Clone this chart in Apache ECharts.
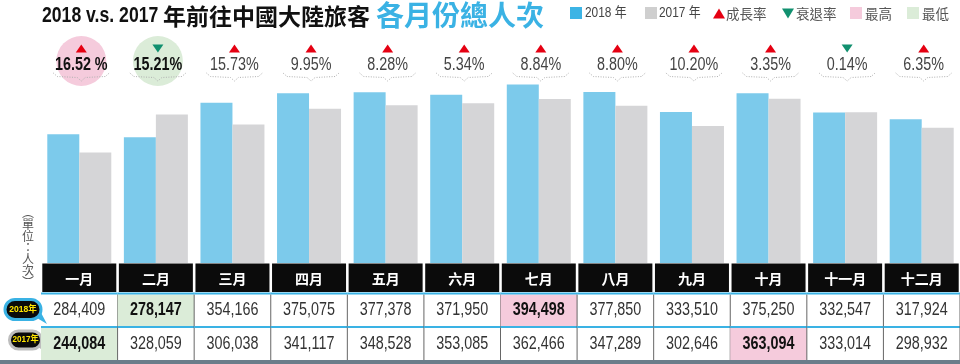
<!DOCTYPE html>
<html><head><meta charset="utf-8">
<script src="https://cdn.jsdelivr.net/npm/echarts@6/dist/echarts.min.js"></script>
<style>html,body{margin:0;padding:0;background:#fff}#c{width:960px;height:364px}</style>
</head><body><div id="c"></div>
<script>
// ---- data ----
const months = ['一月','二月','三月','四月','五月','六月','七月','八月','九月','十月','十一月','十二月'];
const v2018 = [284409,278147,354166,375075,377378,371950,394498,377850,333510,375250,332547,317924];
const v2017 = [244084,328059,306038,341117,348528,353085,362466,347289,302646,363094,333014,298932];
const growth = [16.52,-15.21,15.73,9.95,8.28,5.34,8.84,8.80,10.20,3.35,-0.14,6.35];
const growthLabels = ['16.52 %','15.21%','15.73%','9.95%','8.28%','5.34%','8.84%','8.80%','10.20%','3.35%','0.14%','6.35%'];
const seriesNames = ['2018 年','2017 年'];
const legendExtra = ['成長率','衰退率','最高','最低'];
const rowLabels = ['2018年','2017年'];
const unitLabel = '︵\n單\n位\n：\n人\n次\n︶';
const titleA = '2018 v.s. 2017', titleB = '年前往中國大陸旅客', titleC = '各月份總人次';

// ---- styles ----
const BLUE_BAR = '#7ccaeb', GRAY_BAR = '#d5d5d7', BLUE = '#3ab2e4', RED = '#e50012', GREEN = '#11906f';
const PINK = '#f5cbdc', LGREEN = '#dbecd8';
const LAT = '"Liberation Sans", Arial, sans-serif';
const CJK = '"Noto Sans CJK TC", "Noto Sans CJK SC", sans-serif';
const fmt = n => n.toLocaleString('en-US');

const gMax = Math.max(...growth), gMin = Math.min(...growth);

function renderGrowth(params, api) {
  const i = api.value(0);
  const cx = api.coord([i, 0])[0] + 2;
  const g = growth[i];
  const ch = [];
  const hl = g === gMax ? PINK : (g === gMin ? LGREEN : null);
  if (hl) ch.push({type:'circle', shape:{cx:cx, cy:61, r:25}, style:{fill:hl}});
  if (g >= 0) ch.push({type:'polygon', shape:{points:[[cx-5.5,52.5],[cx+5.5,52.5],[cx,44.5]]}, style:{fill:RED}});
  else ch.push({type:'polygon', shape:{points:[[cx-5.5,44.5],[cx+5.5,44.5],[cx,52.5]]}, style:{fill:GREEN}});
  ch.push({type:'polyline', shape:{points:[[cx-28,73],[cx-24,76.5],[cx-4,77.5],[cx,81],[cx+4,77.5],[cx+24,76.5],[cx+28,73]]},
    style:{stroke:'#b0b0b0', lineWidth:1, lineDash:[1,1.5], fill:null}});
  ch.push({type:'text', x:cx, y:65, scaleX:0.82, style:{text:growthLabels[i], fontFamily:LAT, fontSize:17.5,
    fontWeight: hl ? 'bold' : 'normal', fill: hl ? '#111' : '#444', align:'center', verticalAlign:'middle'}});
  return {type:'group', children:ch};
}

function renderTable(params, api) {
  const i = api.value(0);
  const p = api.coord([i, 0]);
  const cx = p[0], base = p[1];
  const bw = api.size([1, 0])[0];
  const x0 = cx - bw / 2, x1 = cx + bw / 2;
  const ch = [];
  ch.push({type:'rect', shape:{x:cx-37, y:base+0.5, width:74, height:28.5}, style:{fill:'#0b0b0b'}});
  ch.push({type:'text', x:cx, y:base+15.5, style:{text:months[i], fill:'#fff', fontFamily:CJK, fontWeight:'bold', fontSize:14, align:'center', verticalAlign:'middle'}});
  const rows = [v2018, v2017];
  const rowTop = [base+31.5, base+65];
  const rowH = [31.5, 32];
  rows.forEach((arr, r) => {
    const mx = Math.max(...arr), mn = Math.min(...arr);
    const v = arr[i];
    const hl = v === mx ? PINK : (v === mn ? LGREEN : null);
    if (hl) ch.push({type:'rect', shape:{x:x0, y:rowTop[r], width:bw, height:rowH[r]}, style:{fill:hl}});
    ch.push({type:'rect', shape:{x:x0, y:rowTop[r]-2, width:bw, height:2}, style:{fill:BLUE}});
    ch.push({type:'text', x:cx, y:rowTop[r]+rowH[r]/2, scaleX:0.82, style:{text:fmt(v), fontFamily:LAT, fontSize:17.5,
      fontWeight: hl ? 'bold' : 'normal', fill: hl ? '#111' : '#333', align:'center', verticalAlign:'middle'}});
  });
  ch.push({type:'line', shape:{x1:x1, y1:base+31.5, x2:x1, y2:base+97}, style:{stroke:'#666', lineWidth:1}});
  return {type:'group', children:ch};
}

const idx = months.map((m, i) => [i, 0]);

const graphic = [
  // title
  {type:'text', left:42, top:5, scaleX:0.82, style:{text:titleA, fontFamily:LAT, fontWeight:'bold', fontSize:21.5, fill:'#111'}},
  {type:'text', x:163, y:16, style:{text:titleB, fontFamily:CJK, fontWeight:'bold', fontSize:23, fill:'#111', verticalAlign:'middle'}},
  {type:'text', x:376, y:15, style:{text:titleC, fontFamily:CJK, fontWeight:'bold', fontSize:28, fill:BLUE, verticalAlign:'middle'}},
  // legend
  {type:'rect', shape:{x:570, y:7, width:12, height:12}, style:{fill:'#3cb4e5'}},
  {type:'text', x:585, y:13.5, scaleX:0.85, style:{text:seriesNames[0], fontFamily:LAT + ',' + CJK, fontSize:14, fill:'#444', verticalAlign:'middle'}},
  {type:'rect', shape:{x:645, y:7, width:12, height:12}, style:{fill:'#cfcfcf'}},
  {type:'text', x:659, y:13.5, scaleX:0.85, style:{text:seriesNames[1], fontFamily:LAT + ',' + CJK, fontSize:14, fill:'#444', verticalAlign:'middle'}},
  {type:'polygon', shape:{points:[[713,18.5],[725,18.5],[719,8.5]]}, style:{fill:RED}},
  {type:'text', x:726, y:13.5, style:{text:legendExtra[0], fontFamily:CJK, fontSize:13.5, fill:'#555', verticalAlign:'middle'}},
  {type:'polygon', shape:{points:[[782,8.5],[794,8.5],[788,18.5]]}, style:{fill:GREEN}},
  {type:'text', x:796, y:13.5, style:{text:legendExtra[1], fontFamily:CJK, fontSize:13.5, fill:'#555', verticalAlign:'middle'}},
  {type:'rect', shape:{x:850, y:7, width:12, height:12}, style:{fill:PINK}},
  {type:'text', x:865, y:13.5, style:{text:legendExtra[2], fontFamily:CJK, fontSize:13.5, fill:'#555', verticalAlign:'middle'}},
  {type:'rect', shape:{x:907, y:7, width:12, height:12}, style:{fill:LGREEN}},
  {type:'text', x:922, y:13.5, style:{text:legendExtra[3], fontFamily:CJK, fontSize:13.5, fill:'#555', verticalAlign:'middle'}},
  // unit label
  {type:'text', x:28, y:207, style:{text:unitLabel, fontFamily:CJK, fontSize:12, lineHeight:11.6, fill:'#555', align:'center', verticalAlign:'top'}},
  // badges
  {type:'polygon', shape:{points:[[32,315],[47,324],[39,309]]}, style:{fill:BLUE}},
  {type:'rect', shape:{x:5, y:299.5, width:36, height:20, r:10}, style:{fill:'#0a0a0a', stroke:BLUE, lineWidth:3}},
  {type:'text', x:23, y:309.5, scaleX:0.9, style:{text:rowLabels[0], fontFamily:LAT + ',' + CJK, fontWeight:'bold', fontSize:9.5, fill:'#ffe500', align:'center', verticalAlign:'middle'}},
  {type:'polygon', shape:{points:[[35,345],[47,353],[40,340]]}, style:{fill:'#bdbdbd'}},
  {type:'rect', shape:{x:9.5, y:331, width:32, height:18, r:9}, style:{fill:'#0a0a0a', stroke:'#bdbdbd', lineWidth:3}},
  {type:'text', x:25.5, y:340, scaleX:0.9, style:{text:rowLabels[1], fontFamily:LAT + ',' + CJK, fontWeight:'bold', fontSize:9, fill:'#ffe500', align:'center', verticalAlign:'middle'}},
  // bottom band
  {type:'rect', shape:{x:0, y:360, width:960, height:4}, style:{fill:'#6b7d8a'}}
];

const chart = echarts.init(document.getElementById('c'), null, {renderer:'canvas'});
chart.setOption({
  animation:false,
  backgroundColor:'#fff',
  grid:{left:41, top:82, width:921, height:181},
  xAxis:{type:'category', data:months, show:false},
  yAxis:{type:'value', min:0, max:400000, show:false},
  series:[
    {name:seriesNames[0], type:'bar', data:v2018, barWidth:32, barGap:'0%', itemStyle:{color:BLUE_BAR}, silent:true},
    {name:seriesNames[1], type:'bar', data:v2017, barWidth:32, barGap:'0%', itemStyle:{color:GRAY_BAR}, silent:true},
    {type:'custom', data:idx, encode:{x:0, y:1}, renderItem:renderGrowth, clip:false, silent:true, z:3},
    {type:'custom', data:idx, encode:{x:0, y:1}, renderItem:renderTable, clip:false, silent:true, z:3}
  ],
  graphic:graphic
});
</script></body></html>
